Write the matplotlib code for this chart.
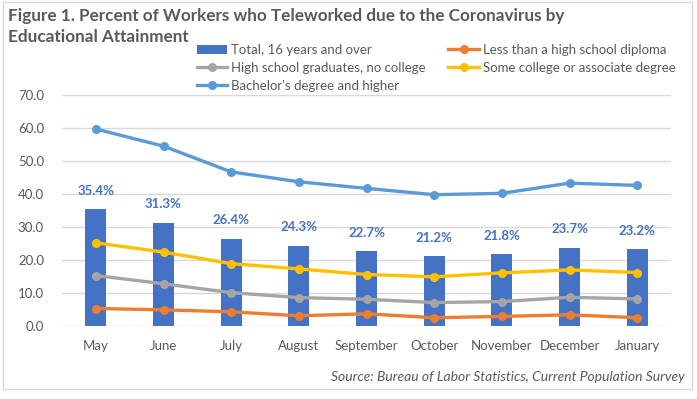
import matplotlib
matplotlib.use("Agg")
import matplotlib.pyplot as plt
from matplotlib.patches import Rectangle
import numpy as np

plt.rcParams['font.family'] = ['Lato', 'DejaVu Sans']

months = ["May", "June", "July", "August", "September", "October", "November", "December", "January"]
total = [35.4, 31.3, 26.4, 24.3, 22.7, 21.2, 21.8, 23.7, 23.2]
less_hs = [5.3, 4.9, 4.3, 3.1, 3.7, 2.5, 2.9, 3.4, 2.5]
hs_grad = [15.3, 12.8, 10.1, 8.6, 8.1, 7.1, 7.4, 8.7, 8.2]
some_college = [25.2, 22.4, 18.9, 17.3, 15.6, 14.9, 16.1, 17.0, 16.2]
bachelors = [59.7, 54.5, 46.7, 43.7, 41.7, 39.8, 40.2, 43.3, 42.6]
yticks = [0, 10, 20, 30, 40, 50, 60, 70]

W, H = 697, 399
fig = plt.figure(figsize=(W/100, H/100), dpi=100)
ax = fig.add_axes([62/W, 1-326/H, (671-62)/W, (326-95)/H])

x = np.arange(len(months))
bars = ax.bar(x, total, width=0.31, color="#4472C4", zorder=2, label="Total, 16 years and over")
for xi, v in zip(x, total):
    ax.annotate(f"{v:.1f}%", (xi, v), xytext=(0, 9), textcoords="offset points",
                ha="center", va="bottom", fontsize=9.5, fontweight="bold", color="#4472C4")

lw, ms = 2.4, 5.5
l1, = ax.plot(x, less_hs, color="#ED7D31", lw=lw, marker="o", ms=ms, zorder=3, label="Less than a high school diploma")
l2, = ax.plot(x, hs_grad, color="#A5A5A5", lw=lw, marker="o", ms=ms, zorder=3, label="High school graduates, no college")
l3, = ax.plot(x, some_college, color="#FFC000", lw=lw, marker="o", ms=ms, zorder=3, label="Some college or associate degree")
l4, = ax.plot(x, bachelors, color="#5B9BD5", lw=lw, marker="o", ms=ms, zorder=3, label="Bachelor's degree and higher")

ax.set_xlim(-0.5, len(months)-0.5)
ax.set_ylim(0, 70)
ax.set_yticks(yticks)
ax.set_yticklabels([f"{t:.1f}" for t in yticks])
ax.set_xticks(x)
ax.set_xticklabels(months)
ax.tick_params(length=0, labelsize=9.5, colors="#595959")
ax.tick_params(axis="y", pad=13)
ax.tick_params(axis="x", pad=10)
ax.grid(axis="y", color="#D9D9D9", lw=1, zorder=0)
for s in ax.spines.values():
    s.set_visible(False)
ax.set_axisbelow(True)

handles = [bars, l2, l4, l1, l3]
fig.legend(handles=handles, labels=[h.get_label() for h in handles], ncol=2,
           loc="upper left", bbox_to_anchor=(197/W, 1-44/H), frameon=False,
           fontsize=9.5, handlelength=2.3, handletextpad=0.3, columnspacing=1.7,
           labelspacing=0.45, labelcolor="#595959", borderpad=0, borderaxespad=0)

fig.text(8/W, 1-16/H, "Figure 1. Percent of Workers who Teleworked due to the Coronavirus by",
         fontsize=12.3, fontweight="bold", color="#595959", va="center", ha="left")
fig.text(8/W, 1-37/H, "Educational Attainment",
         fontsize=12.3, fontweight="bold", color="#595959", va="center", ha="left")
fig.text(685/W, 1-377/H, "Source: Bureau of Labor Statistics, Current Population Survey",
         fontsize=10, style="italic", color="#595959", va="center", ha="right")

fig.patches.append(Rectangle((3/W, 1-389/H), (692-3)/W, (389-2)/H, transform=fig.transFigure,
                             fill=False, edgecolor="#D9D9D9", lw=1))

fig.savefig("out.png", dpi=100)
